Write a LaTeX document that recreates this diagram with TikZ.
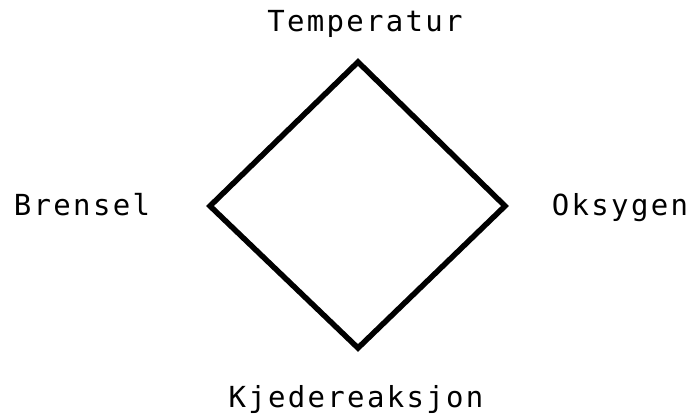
\documentclass[tikz,border=0pt]{standalone}
\usepackage{fontspec}
\newfontfamily\labelfont[LetterSpace=8]{DejaVu Sans Mono}
\begin{document}
\begin{tikzpicture}[x=1pt,y=-1pt,
  lbl/.style={inner sep=0pt,anchor=base,font=\fontsize{29}{32}\selectfont\labelfont},
  edge/.style={line width=5.5pt,line join=miter}]
\useasboundingbox (0,0) rectangle (694,417);
\coordinate (t) at (358,62);
\coordinate (r) at (505,206);
\coordinate (b) at (358,348);
\coordinate (l) at (210,206);
\draw[edge] (t) -- (r) -- (b) -- (l) -- cycle;
\node[lbl] (temp) at (365,32) {Temperatur};
\node[lbl] (bren) at (82,215) {Brensel};
\node[lbl] (oks) at (620,215) {Oksygen};
\node[lbl] (kjede) at (356,407) {Kjedereaksjon};
\end{tikzpicture}
\end{document}
